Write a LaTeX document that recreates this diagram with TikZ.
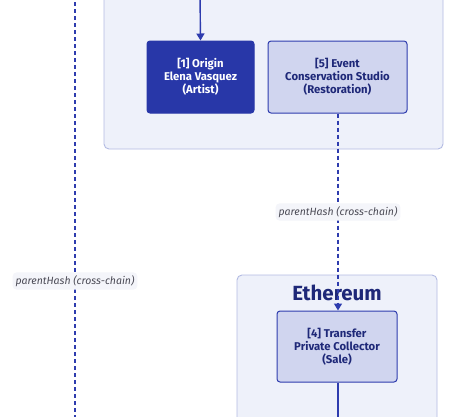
\documentclass[tikz,border=0pt]{standalone}
\usepackage{fontspec}
\setmainfont{Fira Sans}
\usetikzlibrary{arrows.meta}
\definecolor{clfill}{HTML}{EEF1FA}
\definecolor{cldraw}{HTML}{B3BBE3}
\definecolor{dark}{HTML}{2837A8}
\definecolor{light}{HTML}{D0D5EF}
\definecolor{edge}{HTML}{2E3CAE}
\definecolor{txt}{HTML}{1E2878}
\definecolor{lblbg}{HTML}{F4F5FA}
\definecolor{lbltxt}{HTML}{4A4A55}
\tikzset{
  cluster/.style={draw=cldraw, fill=clfill, rounded corners=5pt, line width=0.9pt},
  darkbox/.style={fill=dark, draw=dark, rounded corners=3pt, text=white, font=\fontsize{11.3}{13}\selectfont\bfseries, align=center, inner sep=0pt, line width=1pt},
  lightbox/.style={fill=light, draw=edge, rounded corners=3pt, text=txt, font=\fontsize{11.3}{13}\selectfont\bfseries, align=center, inner sep=0pt, line width=1pt},
  flow/.style={draw=edge, line width=1.4pt, -{Triangle[length=7pt,width=8pt]}},
  xflow/.style={flow, dash pattern=on 4pt off 3pt},
  elbl/.style={fill=lblbg, rounded corners=4pt, text=lbltxt, font=\fontsize{10.5}{12}\selectfont\itshape, inner xsep=3pt, inner ysep=3pt},
}
\begin{document}
\begin{tikzpicture}[x=1pt,y=-1pt]
\useasboundingbox (0,0) rectangle (462,416);
\clip (0,0) rectangle (462,416);
\fill[white] (0,0) rectangle (462,416);
% clusters
\draw[cluster] (104,-30) rectangle (443,149);
\draw[cluster] (237,275) rectangle (437,460);
\node[font=\fontsize{20.5}{24}\selectfont\bfseries, text=txt] (eth) at (337,293) {Ethereum};
% nodes
\node[darkbox, minimum width=107pt, minimum height=72pt] (n1) at (200.5,77) {[1] Origin\\Elena Vasquez\\(Artist)};
\node[lightbox, minimum width=139pt, minimum height=72pt] (n5) at (337.5,77) {[5] Event\\Conservation Studio\\(Restoration)};
\node[lightbox, minimum width=120pt, minimum height=71pt] (n4) at (337,346.5) {[4] Transfer\\Private Collector\\(Sale)};
% free ends
\coordinate (topin) at (200,-5);
\coordinate (leftt) at (75,-5);
\coordinate (leftb) at (75,420);
\coordinate (botout) at (338,420);
% edges
\draw[xflow] (n5.south -| 338,0) -- (n4.north -| 338,0);
\node[elbl] (l1) at (338,212) {parentHash (cross-chain)};
\draw[flow] (topin) -- (n1.north);
\draw[draw=edge, line width=1.4pt] (n4.south -| 338,0) -- (botout);
\draw[draw=edge, line width=1.4pt, dash pattern=on 4pt off 3pt] (leftt) -- (leftb);
\node[elbl] (l2) at (75,281) {parentHash (cross-chain)};
\end{tikzpicture}
\end{document}
